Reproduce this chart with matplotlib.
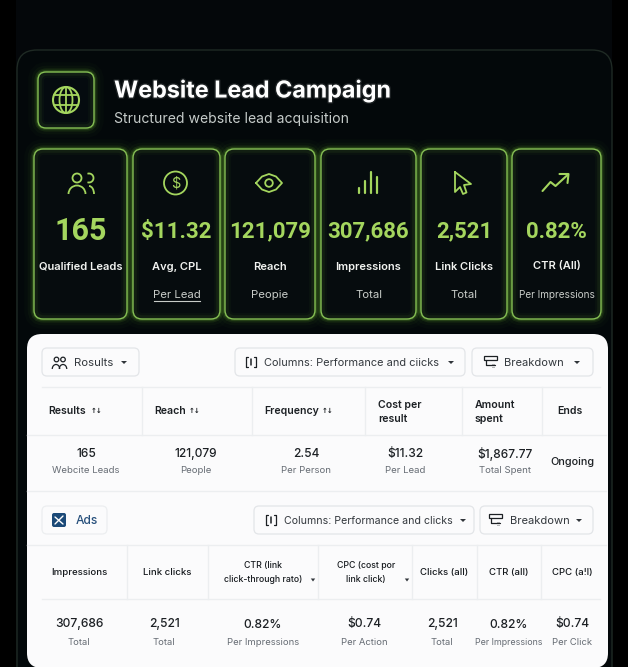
import matplotlib
matplotlib.use('Agg')
from matplotlib import pyplot as plt
from matplotlib.patches import FancyBboxPatch, Circle, Ellipse, Rectangle, Polygon, Arc
import matplotlib.patheffects as pe

plt.rcParams['font.family'] = ['Inter', 'DejaVu Sans']

GREEN = '#a4d65e'
EDGE = '#86bf55'
INK = '#1c2024'
GREY = '#666c74'

# KPI cards
card_values = ['165', '$11.32', '121,079', '307,686', '2,521', '0.82%']
card_labels = ['Qualified Leads', 'Avg, CPL', 'Reach', 'Impressions', 'Link CIicks', 'CTR (All)']
card_subs = ['', 'Per Lead', 'Peopie', 'Total', 'Total', 'Per Impressions']
card_left = [34, 133, 225, 321, 421, 512]
card_right = [127, 220, 315, 416, 507, 601]

# first table
t1_headers = ['Results', 'Reach', 'Frequency', 'Cost per\nresult', 'Amount\nspent', 'Ends']
t1_values = ['165', '121,079', '2.54', '$11.32', '$1,867.77', 'Ongoing']
t1_subs = ['Webcite Leads', 'People', 'Per Person', 'Per Lead', 'Total Spent', '']
t1_head_x = [48.5, 154.5, 264.5, 378, 475, 557]
t1_sort_x = [91, 189, 321.5]
t1_val_x = [86, 196, 306, 405, 505, 572]
t1_seps = [142, 252, 365, 462, 542]

# second table
t2_headers = ['Impressions', 'Link clicks', 'CTR (link\nclick-through rato)', 'CPC (cost por\nlink click)',
              'Clicks (all)', 'CTR (all)', 'CPC (a!l)']
t2_values = ['307,686', '2,521', '0.82%', '$0.74', '2,521', '0.82%', '$0.74']
t2_subs = ['Total', 'Total', 'Per Impressions', 'Per Action', 'Total', 'Per Impressions', 'Per Click']
t2_head_x = [79, 167, 263, 366, 444, 509, 572]
t2_val_x = [79, 164, 263, 364, 442, 509, 572]
t2_seps = [127, 208, 318, 412, 477, 541]


def round_box(ax, x0, y0, x1, y1, r, **kw):
    box = FancyBboxPatch((x0 + r, y0 + r), x1 - x0 - 2 * r, y1 - y0 - 2 * r,
                         boxstyle=f'round,pad={r},rounding_size={r}', **kw)
    ax.add_patch(box)
    return box


def glow_box(ax, x0, y0, x1, y1, r, fill='#060c0e'):
    for lw, a in [(14, 0.025), (9, 0.04), (5, 0.07), (3, 0.12)]:
        round_box(ax, x0, y0, x1, y1, r, fc='none', ec='#7fd13b', lw=lw, alpha=a)
    round_box(ax, x0, y0, x1, y1, r, fc=fill, ec='none')
    for lw, a in [(7, 0.035), (4, 0.07)]:
        round_box(ax, x0 + 1, y0 + 1, x1 - 1, y1 - 1, r, fc='none', ec='#7fd13b', lw=lw, alpha=a)
    round_box(ax, x0, y0, x1, y1, r, fc='none', ec=EDGE, lw=1.0)


def line(ax, xs, ys, color=GREEN, lw=1.3):
    ax.plot(xs, ys, color=color, lw=lw, solid_capstyle='round', solid_joinstyle='round')


def icon_globe(ax, cx, cy):
    ax.add_patch(Circle((cx, cy), 13, fc='none', ec=GREEN, lw=1.5))
    ax.add_patch(Ellipse((cx, cy), 13, 26, fc='none', ec=GREEN, lw=1.3))
    line(ax, [cx - 12, cx + 12], [cy - 5, cy - 5], lw=1.3)
    line(ax, [cx - 12, cx + 12], [cy + 5, cy + 5], lw=1.3)
    line(ax, [cx, cx], [cy - 13, cy + 13], lw=1.3)


def icon_people(ax, cx, cy):
    ax.add_patch(Circle((cx - 5, cy - 5), 4.5, fc='none', ec=GREEN, lw=1.3))
    ax.add_patch(Arc((cx + 7, cy - 5), 9, 9, theta1=-110, theta2=110, ec=GREEN, lw=1.3))
    ax.add_patch(Arc((cx - 5, cy + 11), 17, 17, theta1=180, theta2=360, ec=GREEN, lw=1.3))
    ax.add_patch(Arc((cx + 7, cy + 11), 10, 16, theta1=270, theta2=360, ec=GREEN, lw=1.3))


def icon_dollar(ax, cx, cy):
    ax.add_patch(Circle((cx, cy), 11.5, fc='none', ec=GREEN, lw=1.3))
    ax.text(cx, cy + 0.5, '$', color=GREEN, fontsize=10.5, ha='center', va='center')


def icon_eye(ax, cx, cy):
    xs = [cx - 13, cx - 7, cx, cx + 7, cx + 13, cx + 7, cx, cx - 7, cx - 13]
    ys = [cy, cy - 6.5, cy - 9, cy - 6.5, cy, cy + 6.5, cy + 9, cy + 6.5, cy]
    line(ax, xs, ys)
    ax.add_patch(Circle((cx, cy), 3.8, fc='none', ec=GREEN, lw=1.3))


def icon_bars(ax, cx, cy):
    for dx, top in zip([-9, -3, 3, 9], [5, -2, -11, -6]):
        line(ax, [cx + dx, cx + dx], [cy + 10, cy + top], lw=1.6)


def icon_cursor(ax, cx, cy):
    xs = [-8, -8, -3, 0, 3.5, 1, 8, -8]
    ys = [-11, 9, 4, 11, 9.5, 2, 1, -11]
    line(ax, [cx + x for x in xs], [cy + y for y in ys])


def icon_trend(ax, cx, cy):
    line(ax, [cx - 13, cx - 5, cx, cx + 12], [cy + 8, cy - 1, cy + 3, cy - 8], lw=1.5)
    line(ax, [cx + 4, cx + 13, cx + 12], [cy - 9, cy - 9, cy + 0], lw=1.5)


def icon_columns(ax, cx, cy):
    line(ax, [cx - 3, cx - 5, cx - 5, cx - 3], [cy - 5, cy - 5, cy + 5, cy + 5], color=INK, lw=0.9)
    line(ax, [cx + 3, cx + 5, cx + 5, cx + 3], [cy - 5, cy - 5, cy + 5, cy + 5], color=INK, lw=0.9)
    line(ax, [cx, cx], [cy - 3, cy + 3], color=INK, lw=1.1)


def icon_breakdown(ax, cx, cy):
    ax.add_patch(Rectangle((cx - 6, cy - 6), 13, 4, fc='none', ec=INK, lw=0.9))
    line(ax, [cx - 4, cx - 4, cx + 5], [cy - 2, cy + 3, cy + 3], color=INK, lw=0.9)
    ax.text(cx + 3, cy + 4, '::', color=INK, fontsize=5, ha='center', va='center')


def caret(ax, cx, cy, s=3):
    ax.add_patch(Polygon([(cx - s, cy - 1.5), (cx + s, cy - 1.5), (cx, cy + 1.5)], fc='#30353a', ec='none'))


def button(ax, x0, x1, y0, y1, ec='#e3e5e8', fc='#fbfbfc'):
    round_box(ax, x0, y0, x1, y1, 5, fc=fc, ec=ec, lw=0.9)


fig = plt.figure(figsize=(6.28, 6.67), dpi=100, facecolor='#000000')
ax = fig.add_axes([0, 0, 1, 1])
ax.set_xlim(0, 628)
ax.set_ylim(667, 0)
ax.axis('off')

# dark backdrop
ax.add_patch(Rectangle((16, 0), 596, 667, fc='#04070a', ec='none'))
round_box(ax, 17, 50, 612, 700, 20, fc='#03080a', ec='#1f2a24', lw=1)

# heading
glow_box(ax, 38, 72, 94, 128, 8, fill='#050b0f')
icon_globe(ax, 66, 100)
ax.text(114, 91, 'Website Lead Campaign', color='white', fontsize=16.8, fontweight='bold', va='center',
        path_effects=[pe.withStroke(linewidth=2, foreground='#ffffff', alpha=0.1)])
ax.text(114, 118.5, 'Structured website lead acquisition', color='#c5cbc9', fontsize=10.1, va='center')

# KPI cards
icons = [icon_people, icon_dollar, icon_eye, icon_bars, icon_cursor, icon_trend]
for i in range(len(card_values)):
    x0, x1 = card_left[i], card_right[i]
    cx = (x0 + x1) / 2
    glow_box(ax, x0, 149, x1, 319, 9)
    icons[i](ax, cx - (1 if i else -1.5), 183)
    size = 22 if i == 0 else 16
    ax.text(cx, 231.5, card_values[i], color=GREEN, fontsize=size, fontweight='bold',
            family=['Roboto', 'DejaVu Sans'], ha='center', va='center')
    ax.text(cx, 266.5, card_labels[i], color='#f1f3f0', fontsize=8, fontweight='semibold', ha='center', va='center')
    ax.text(cx, 295, card_subs[i], color='#c8ccc8', fontsize=7.2 if i == 5 else 8.2, ha='center', va='center')
ax.plot([154, 200], [300.5, 300.5], color='#c8ccc8', lw=0.8)

# white panel
round_box(ax, 27, 334, 608, 668, 15, fc='#fbfbfc', ec='none')

# first toolbar
button(ax, 42, 139, 348, 376)
ax.add_patch(Circle((56.5, 359.5), 2.3, fc='none', ec=INK, lw=0.9))
ax.add_patch(Circle((63, 359.5), 2.3, fc='none', ec=INK, lw=0.9))
ax.add_patch(Arc((56, 369), 7.5, 9, theta1=180, theta2=360, ec=INK, lw=0.9))
ax.add_patch(Arc((63, 369), 7.5, 9, theta1=180, theta2=360, ec=INK, lw=0.9))
ax.text(74, 363, 'Rosults', color='#33383d', fontsize=8.2, va='center')
caret(ax, 124, 362.5)
button(ax, 235, 465, 348, 376)
icon_columns(ax, 251, 362)
ax.text(264, 363, 'Columns: Performance and ciicks', color='#33383d', fontsize=7.9, va='center')
caret(ax, 451, 362.5)
button(ax, 472, 593, 348, 376)
icon_breakdown(ax, 490, 362)
ax.text(504, 363, 'Breakdown', color='#33383d', fontsize=8.0, va='center')
caret(ax, 577, 362.5)

# first table
for y, x0, x1 in [(387, 42, 600), (435, 27, 606), (491, 27, 606)]:
    ax.plot([x0, x1], [y, y], color='#eceef0', lw=1)
for x in t1_seps:
    ax.plot([x, x], [387, 435], color='#eceef0', lw=1)
for i in range(len(t1_headers)):
    ax.text(t1_head_x[i], 411.5, t1_headers[i], color=INK, fontsize=7.6, fontweight='semibold', va='center',
            linespacing=1.5)
    if i < len(t1_sort_x):
        ax.text(t1_sort_x[i], 411, '↑↓', color=INK, fontsize=5, fontweight='bold', va='center',
                family=['DejaVu Sans'])
    if t1_subs[i]:
        ax.text(t1_val_x[i], 454, t1_values[i], color=INK, fontsize=8.6, fontweight='medium', ha='center', va='center')
        ax.text(t1_val_x[i], 470.5, t1_subs[i], color=GREY, fontsize=6.9, ha='center', va='center')
    else:
        ax.text(t1_val_x[i], 462, t1_values[i], color=INK, fontsize=7.8, fontweight='medium', ha='center', va='center')

# second toolbar
button(ax, 42, 107, 506, 534, ec='#eceef0')
round_box(ax, 52, 513, 66, 527, 2, fc='#1c4a78', ec='none')
line(ax, [55, 63], [517, 524], color='white', lw=1)
line(ax, [63, 57, 55], [516, 522, 524], color='white', lw=1)
ax.text(76, 521, 'Ads', color='#27507c', fontsize=8.6, fontweight='medium', va='center')
button(ax, 254, 474, 506, 534)
icon_columns(ax, 271, 520)
ax.text(284, 521, 'Columns: Performance and clicks', color='#33383d', fontsize=7.6, va='center')
caret(ax, 463, 520.5)
button(ax, 480, 593, 506, 534)
icon_breakdown(ax, 495, 520)
ax.text(510, 521, 'Breakdown', color='#33383d', fontsize=8.0, va='center')
caret(ax, 579, 520.5)

# second table
for y, x0, x1 in [(545, 27, 606), (599, 42, 600)]:
    ax.plot([x0, x1], [y, y], color='#eceef0', lw=1)
for x in t2_seps:
    ax.plot([x, x], [545, 599], color='#eceef0', lw=1)
for i in range(len(t2_headers)):
    two_line = '\n' in t2_headers[i]
    ax.text(t2_head_x[i], 572.5, t2_headers[i], color='#15191d', fontsize=6.3 if two_line else 6.9, fontweight='medium',
            ha='center', va='center', linespacing=1.75)
    ax.text(t2_val_x[i], 624.5, t2_values[i], color=INK, fontsize=8.7, fontweight='medium', ha='center', va='center')
    ax.text(t2_val_x[i], 642.5, t2_subs[i], color=GREY, fontsize=6.4 if i == 5 else 6.8, ha='center', va='center')
caret(ax, 313, 580, 2.2)
caret(ax, 407, 580, 2.2)

fig.savefig('out.png', dpi=100, facecolor=fig.get_facecolor())
